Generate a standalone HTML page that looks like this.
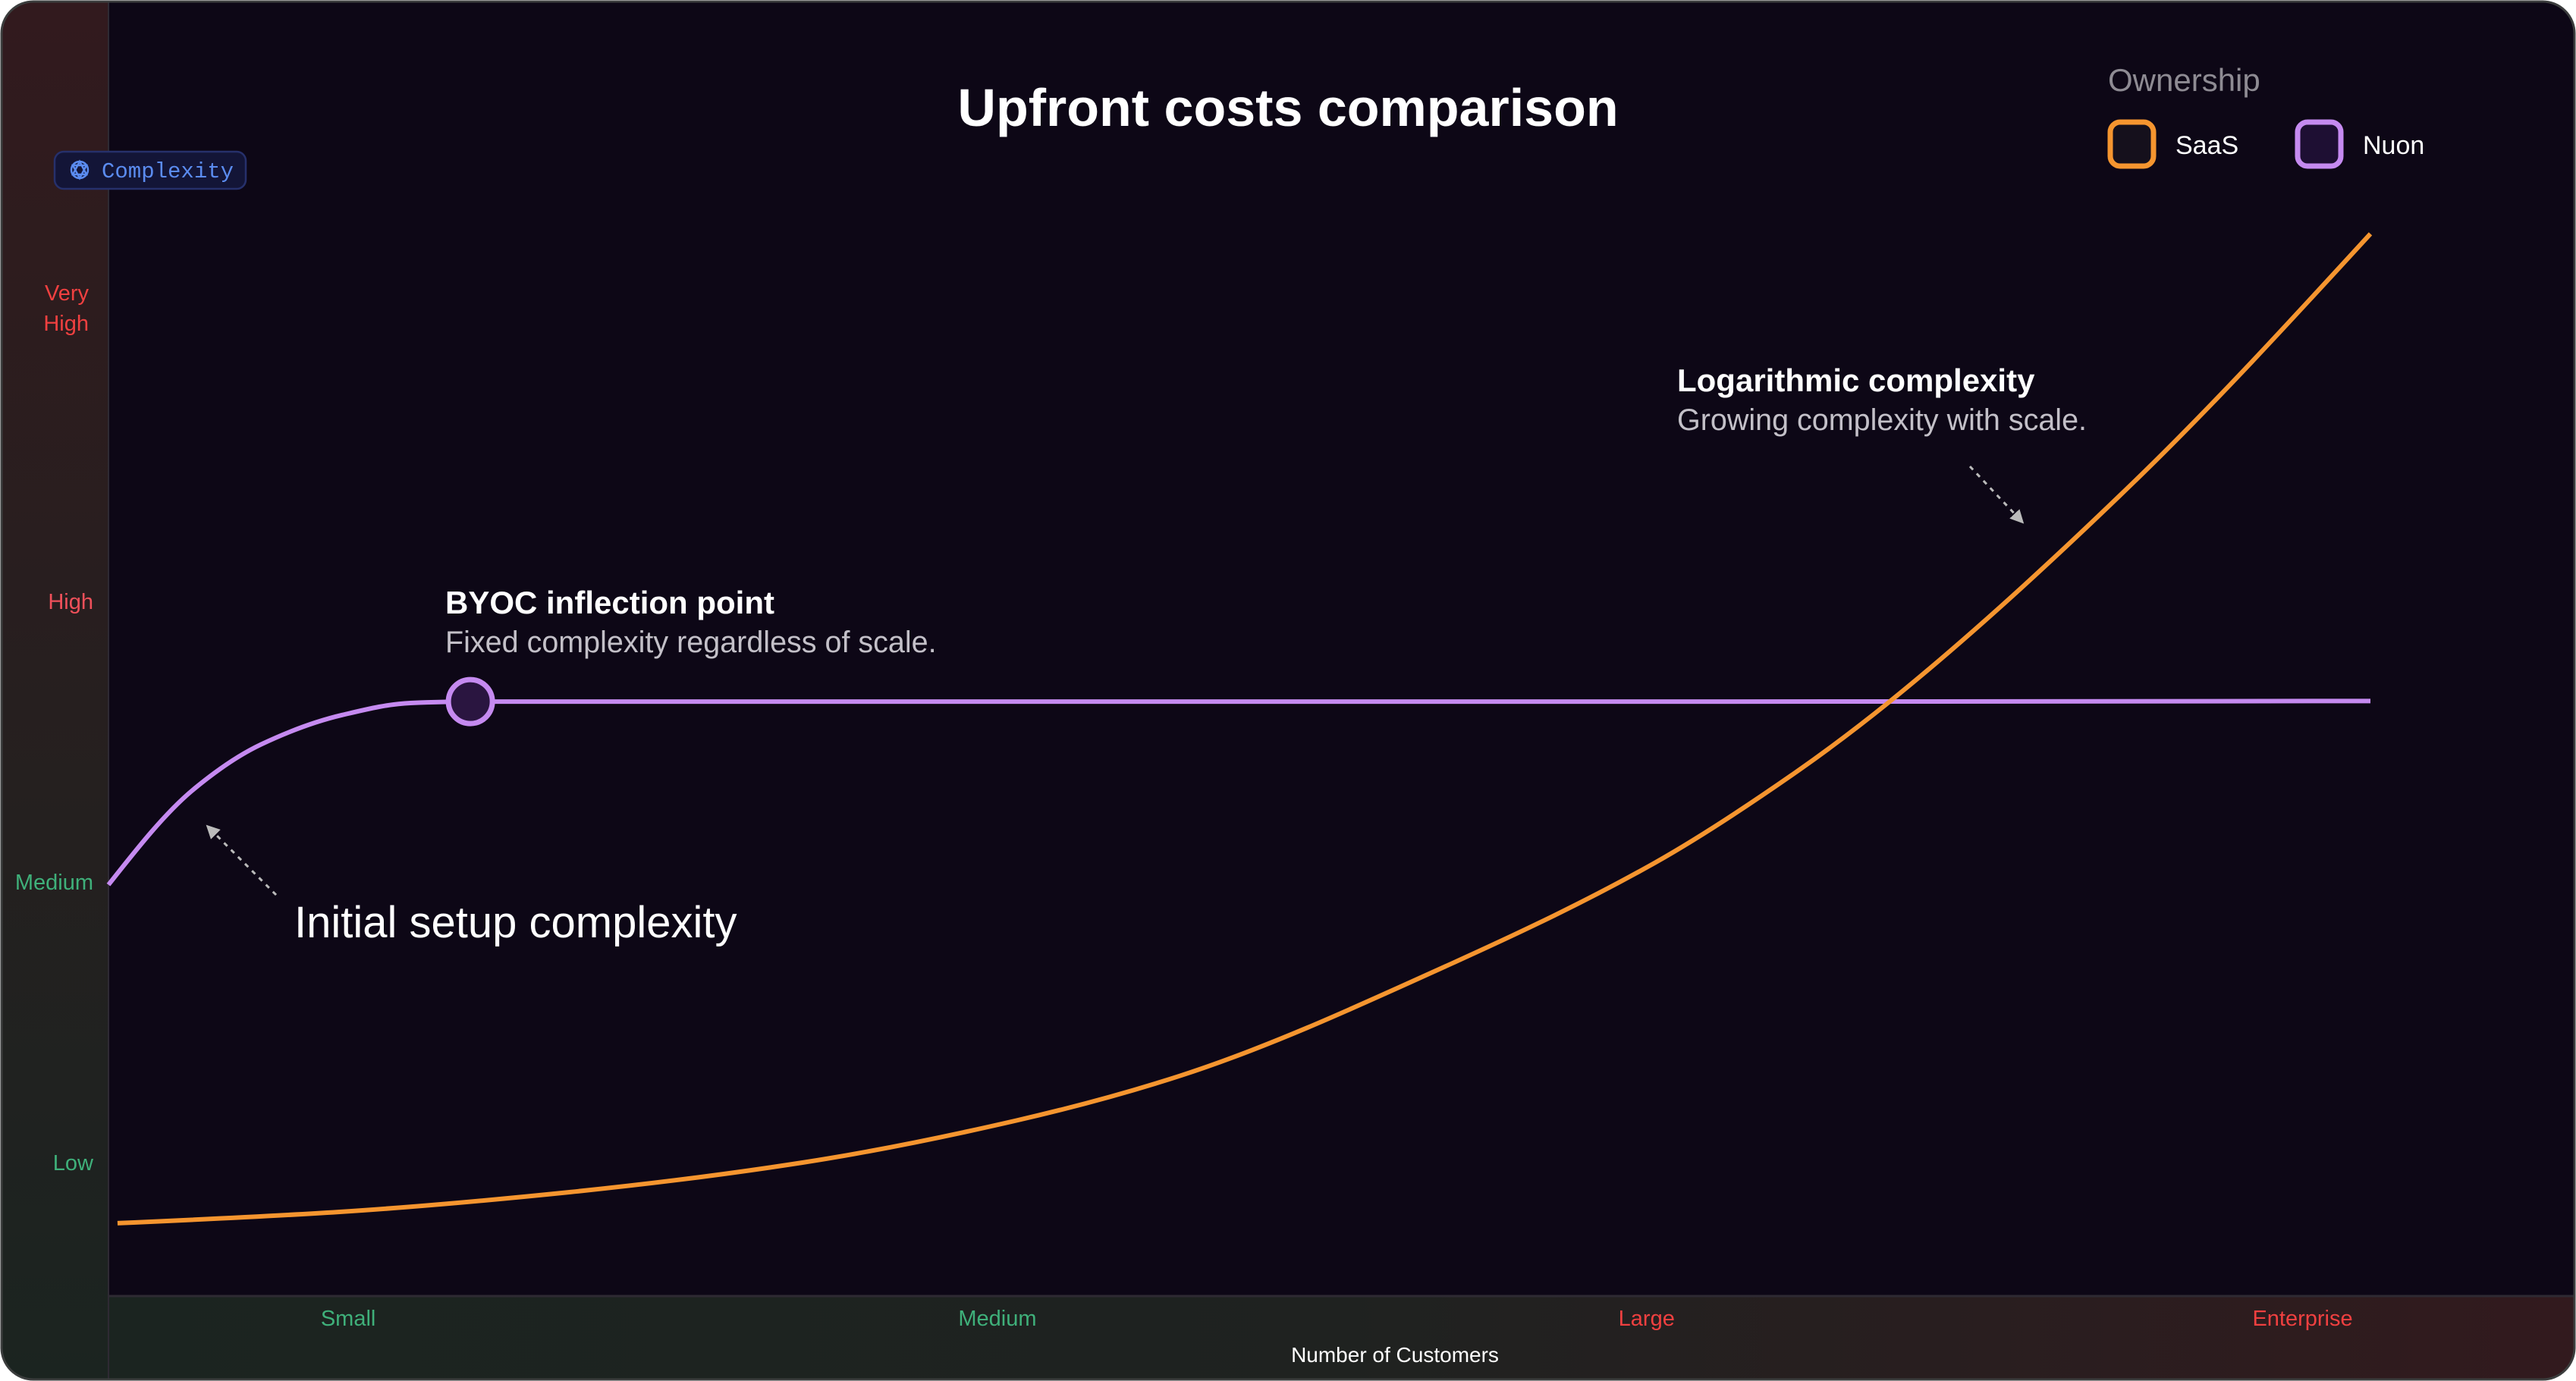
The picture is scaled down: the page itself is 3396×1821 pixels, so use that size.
<!DOCTYPE html>
<html><head><meta charset="utf-8"><style>
html,body{margin:0;padding:0;background:#fff;}
body{width:3396px;height:1821px;overflow:hidden;font-family:"Liberation Sans",sans-serif;}
svg{display:block}
</style></head><body>
<svg id="chart" width="3396" height="1821" viewBox="0 0 3396 1821" xmlns="http://www.w3.org/2000/svg">
<defs>
<linearGradient id="lg" x1="0" y1="0" x2="0" y2="1"><stop offset="0" stop-color="#321a1e"/><stop offset="1" stop-color="#1b2420"/></linearGradient>
<linearGradient id="bg" x1="0" y1="0" x2="1" y2="0"><stop offset="0" stop-color="#1b2420"/><stop offset="0.5" stop-color="#1f2220"/><stop offset="1" stop-color="#321a1e"/></linearGradient>
<clipPath id="frame"><rect x="2" y="2" width="3392" height="1817" rx="42"/></clipPath>
<marker id="ah" viewBox="0 0 10 10" refX="5" refY="5" markerWidth="6" markerHeight="6" orient="auto"><path d="M0,0 L10,5 L0,10 z" fill="#bbb"/></marker>
</defs>
<g clip-path="url(#frame)">
<rect x="0" y="0" width="3396" height="1821" fill="#0d0716"/>
<rect x="0" y="0" width="143" height="1821" fill="url(#lg)"/>
<rect x="143" y="1709" width="3253" height="112" fill="url(#bg)"/>
<line x1="143" y1="0" x2="143" y2="1821" stroke="#2e2a33" stroke-width="2"/>
<line x1="143" y1="1709" x2="3396" y2="1709" stroke="#2e2a33" stroke-width="3"/>
</g>
<rect x="2" y="2" width="3392" height="1817" rx="42" fill="none" stroke="#3b3d3d" stroke-width="3"/>

<text x="1698" y="166" text-anchor="middle" font-size="70" font-weight="bold" fill="#fff">Upfront costs comparison</text>

<g>
<text x="2779" y="120" font-size="42" fill="#8e8b93">Ownership</text>
<g>
<rect x="2782" y="161" width="57" height="58" rx="13" fill="#15101c" stroke="#f5952f" stroke-width="7"/>
<text x="2868" y="203" font-size="34" fill="#fff">SaaS</text>
</g>
<g>
<rect x="3029" y="161" width="57" height="58" rx="13" fill="#1e0f33" stroke="#c58af0" stroke-width="7"/>
<text x="3115" y="203" font-size="34" fill="#fff">Nuon</text>
</g>
</g>

<g>
<rect x="72" y="200" width="252" height="49" rx="12" fill="#131537" stroke="#26306b" stroke-width="2.5"/>
<g transform="translate(105,224)" stroke="#5b8cf0" stroke-width="2.5" fill="none">
<circle r="11"/><path d="M0,-11 L9,6 L-9,6 Z M0,11 L9,-6 L-9,-6 Z"/>
</g>
<text x="134" y="234" font-family="Liberation Mono, monospace" font-size="29" fill="#5b8cf0">Complexity</text>
</g>

<g id="yticks"></g>
<g id="xticks"></g>
<text x="1839" y="1796" text-anchor="middle" font-size="28" fill="#fff">Number of Customers</text>

<g id="series"></g>

<g>
<text x="587" y="809" font-size="42" font-weight="bold" fill="#fff">BYOC inflection point</text>
<text x="587" y="860" font-size="39.5" fill="#c3c0c8">Fixed complexity regardless of scale.</text>
</g>
<g>
<text x="2211" y="516" font-size="42" font-weight="bold" fill="#fff">Logarithmic complexity</text>
<text x="2211" y="567" font-size="39.5" fill="#c3c0c8">Growing complexity with scale.</text>
<line x1="2597" y1="615" x2="2662" y2="684" stroke="#bbb" stroke-width="3" stroke-dasharray="6,7" marker-end="url(#ah)"/>
</g>
<g>
<text x="388" y="1236" font-size="58" font-weight="500" fill="#fff">Initial setup complexity</text>
<line x1="364" y1="1180" x2="278" y2="1094" stroke="#bbb" stroke-width="3" stroke-dasharray="6,7" marker-end="url(#ah)"/>
</g>
</svg>
<script>
const yTickLabels = [["Low"], ["Medium"], ["High"], ["Very", "High"]];
const yTickValues = [1, 2, 3, 4];
const yTickColors = ["#3fb07a", "#3fb07a", "#f0505a", "#f04040"];
const xTickLabels = ["Small", "Medium", "Large", "Enterprise"];
const xTickValues = [10.6, 39.3, 68, 97];
const xTickColors = ["#3fb07a", "#3fb07a", "#f04040", "#f04040"];
const saasX = [0.4, 10.16, 20.42, 30.68, 40.14, 47.4, 59.4, 68.4, 74.4, 78.7, 89.6, 100];
const saasY = [0.784, 0.824, 0.895, 1.0, 1.15, 1.31, 1.71, 2.07, 2.38, 2.64, 3.43, 4.31];
const nuonX = [0, 3.76, 6.74, 10.33, 13.35, 16, 40, 70, 100];
const nuonY = [1.99, 2.33, 2.49, 2.595, 2.638, 2.643, 2.643, 2.643, 2.645];
const inflectionX = 16, inflectionY = 2.643;

const NS = "http://www.w3.org/2000/svg";
function xs(d){ return 143 + d * (3125 - 143) / 100; }
function ys(v){ return 1533 - (v - 1) * 370; }
function mk(tag, attrs, parent){ const e = document.createElementNS(NS, tag); for (const k in attrs) e.setAttribute(k, attrs[k]); parent.appendChild(e); return e; }
function pathFor(X, Y){
  const px = X.map(xs), py = Y.map(ys), n = px.length;
  const dx = [], s = [];
  for (let i=0;i<n-1;i++){ dx.push(px[i+1]-px[i]); s.push((py[i+1]-py[i])/dx[i]); }
  const m = new Array(n);
  for (let i=1;i<n-1;i++){
    if (s[i-1]*s[i] <= 0) m[i] = 0;
    else { const w1 = 2*dx[i]+dx[i-1], w2 = dx[i]+2*dx[i-1]; m[i] = (w1+w2)/(w1/s[i-1]+w2/s[i]); }
  }
  m[0] = (3*s[0] - m[1]) / 2;
  m[n-1] = (3*s[n-2] - m[n-2]) / 2;
  let d = "M" + px[0] + "," + py[0];
  for (let i=0;i<n-1;i++){
    const h = dx[i]/3;
    d += " C" + (px[i]+h) + "," + (py[i]+m[i]*h) + " " + (px[i+1]-h) + "," + (py[i+1]-m[i+1]*h) + " " + px[i+1] + "," + py[i+1];
  }
  return d;
}
const yg = document.getElementById("yticks");
yTickValues.forEach((v,i)=>{
  const lines = yTickLabels[i];
  const ax = lines.length > 1 ? 117 : 123;
  const t = mk("text", {x:ax, "text-anchor":"end", "font-size":29, fill:yTickColors[i]}, yg);
  
  
  const y0 = ys(v) + 10 - (lines.length - 1) * 20 - (lines.length > 1 ? 17 : 0);
  lines.forEach((s,j)=>{ const ts = mk("tspan", {x:ax, y:y0 + j*40}, t); ts.textContent = s; });
});
const xg = document.getElementById("xticks");
xTickValues.forEach((v,i)=>{
  const t = mk("text", {x:xs(v), y:1748, "text-anchor":"middle", "font-size":29, fill:xTickColors[i]}, xg);
  
  
  t.textContent = xTickLabels[i];
});
const sg = document.getElementById("series");
const nuon = mk("path", {d:pathFor(nuonX, nuonY), fill:"none", stroke:"#c58af0", "stroke-width":6}, sg);


const saas = mk("path", {d:pathFor(saasX, saasY), fill:"none", stroke:"#f5952f", "stroke-width":6}, sg);


const pt = mk("circle", {cx:xs(inflectionX), cy:ys(inflectionY), r:29, fill:"#2a1540", stroke:"#c58af0", "stroke-width":7}, sg);


</script>
</body></html>
